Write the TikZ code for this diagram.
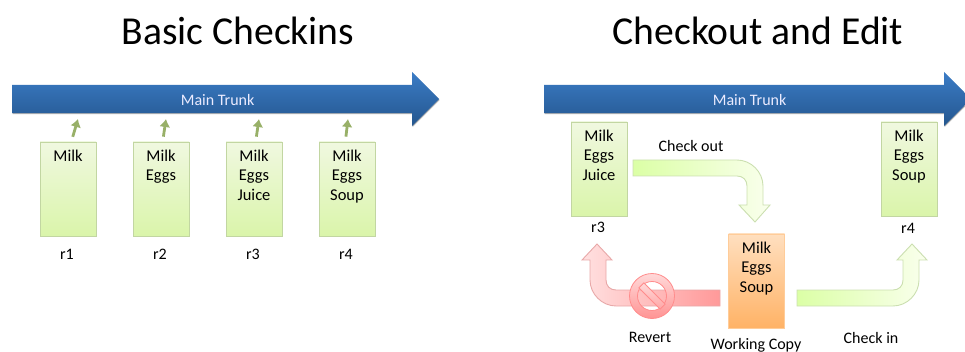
\documentclass[tikz,border=0pt]{standalone}
\usepackage{fontspec}
\setmainfont{Carlito}
\usetikzlibrary{arrows.meta,shapes.arrows,shadows}
\definecolor{trunktop}{HTML}{3B7CC6}
\definecolor{trunkbot}{HTML}{24568E}
\definecolor{tickgreen}{HTML}{98B068}
\definecolor{boxline}{HTML}{C2D6A2}
\definecolor{boxtop}{HTML}{F0F8E0}
\definecolor{boxbot}{HTML}{DAF5AA}
\definecolor{arrowline}{HTML}{CBDFB0}
\definecolor{redline}{HTML}{E8A8A8}
\newcommand{\revtext}[1]{\parbox[c][86pt][t]{54pt}{\vspace*{4pt}\centering\baselineskip=19.5pt #1}}
\tikzset{
	trunk/.style={shape=single arrow, single arrow head extend=13pt, single arrow tip angle=90, single arrow head indent=0pt, minimum height=427pt, inner sep=0pt, text height=20.5pt, text depth=7.5pt, anchor=tail, top color=trunktop, bottom color=trunkbot, text=blue!8, font=\fontsize{16}{18}\selectfont, general shadow={fill=black!30, shadow xshift=0.5pt, shadow yshift=-1pt}},
	revbox/.style={rectangle, draw=boxline, line width=0.8pt, top color=boxtop, bottom color=boxbot, minimum width=56pt, minimum height=94pt, inner sep=0pt, font=\fontsize{16.5}{19}\selectfont, general shadow={fill=black!20, shadow xshift=0.5pt, shadow yshift=-1pt}},
	wcbox/.style={revbox, draw=orange!40, top color=orange!25, bottom color=orange!60},
	lbl/.style={font=\fontsize{16}{18}\selectfont},
	title/.style={font=\fontsize{39.6}{44}\selectfont},
	tick/.style={-{Latex[length=8pt,width=11pt]}, tickgreen, line width=2.8pt, shorten <=5pt},
	greenarrow/.style={draw=arrowline, line width=0.9pt, left color=green!40!yellow!35, right color=green!30!yellow!7},
	redarrow/.style={draw=redline, line width=0.9pt, left color=red!12, right color=red!40},
}
\begin{document}
\begin{tikzpicture}[x=1pt, y=-1pt]
	\useasboundingbox (0,0) rectangle (965,352);

	% left half
	\node[title] (t1) at (238,31) {Basic Checkins};
	\node[trunk] (trunkA) at (12,99) {\hspace*{-2pt}Main Trunk};

	\node[revbox] (m1) at (68,189) {\revtext{Milk}};
	\node[revbox] (m2) at (161,189) {\revtext{Milk\\Eggs}};
	\node[revbox] (m3) at (254,189) {\revtext{Milk\\Eggs\\Juice}};
	\node[revbox] (m4) at (347,189) {\revtext{Milk\\Eggs\\Soup}};

	\node[lbl] (r1) at (67,254) {r1};
	\node[lbl] (r2) at (160,254) {r2};
	\node[lbl] (r3) at (253,254) {r3};
	\node[lbl] (r4) at (346,254) {r4};

	\coordinate (a1) at (78,119);
	\coordinate (a2) at (166,119);
	\coordinate (a3) at (259,119);
	\coordinate (a4) at (348,119);
	\foreach \i/\ang in {1/86,2/88,3/88,4/92}
		\draw[tick] (m\i.\ang) -- (a\i);

	% right half
	\node[title] (t2) at (758,31) {Checkout and Edit};
	\node[trunk] (trunkB) at (544,99) {\hspace*{-2pt}Main Trunk};

	\node[revbox] (k3) at (599,169) {\revtext{Milk\\Eggs\\Juice}};
	\node[revbox] (k4) at (909,169) {\revtext{Milk\\Eggs\\Soup}};
	\node[wcbox] (wc) at (756.5,281) {\revtext{Milk\\Eggs\\Soup}};

	\node[lbl] (r3b) at (598,227) {r3};
	\node[lbl] (r4b) at (908,228) {r4};
	\node[lbl] (co) at (691,146) {Check out};
	\node[lbl] (rv) at (650,337) {Revert};
	\node[lbl] (wl) at (756,345) {Working Copy};
	\node[lbl] (ci) at (871,338) {Check in};

	% bent arrows
	\coordinate (coStart) at (633,160);
	\coordinate (rvStart) at (720,290);
	\coordinate (ciStart) at (797,290);

	\shadedraw[greenarrow] (coStart) -- ++(104,0) .. controls +(14,0) and +(0,-14) .. ++(26,26) -- ++(0,19) -- ++(7,0) -- ++(-15,17) -- ++(-16,-17) -- ++(8,0) -- ++(0,-19) .. controls +(0,-6) and +(6,0) .. ++(-10,-10) -- ++(-104,0) -- cycle;

	\shadedraw[redarrow] (rvStart) -- ++(-104,0) .. controls +(-6,0) and +(0,6) .. ++(-10,-10) -- ++(0,-20) -- ++(6,0) -- ++(-15,-16) -- ++(-15,16) -- ++(8,0) -- ++(0,20) .. controls +(0,14) and +(-14,0) .. ++(26,26) -- ++(104,0) -- cycle;

	\shadedraw[greenarrow] (ciStart) -- ++(96,0) .. controls +(6,0) and +(0,6) .. ++(10,-10) -- ++(0,-20) -- ++(-6,0) -- ++(15,-16) -- ++(15,16) -- ++(-8,0) -- ++(0,20) .. controls +(0,14) and +(14,0) .. ++(-26,26) -- ++(-96,0) -- cycle;

	% no entry sign
	\coordinate (no) at (652,296);
	\shadedraw[even odd rule, draw=red!45, line width=0.8pt, top color=red!15, bottom color=red!42] (no) circle (22.5pt) (no) circle (14.5pt);
	\shadedraw[draw=red!45, line width=0.8pt, top color=red!15, bottom color=red!35, rotate around={-45:(no)}] (637,292.5) rectangle (667,299.5);
\end{tikzpicture}
\end{document}
